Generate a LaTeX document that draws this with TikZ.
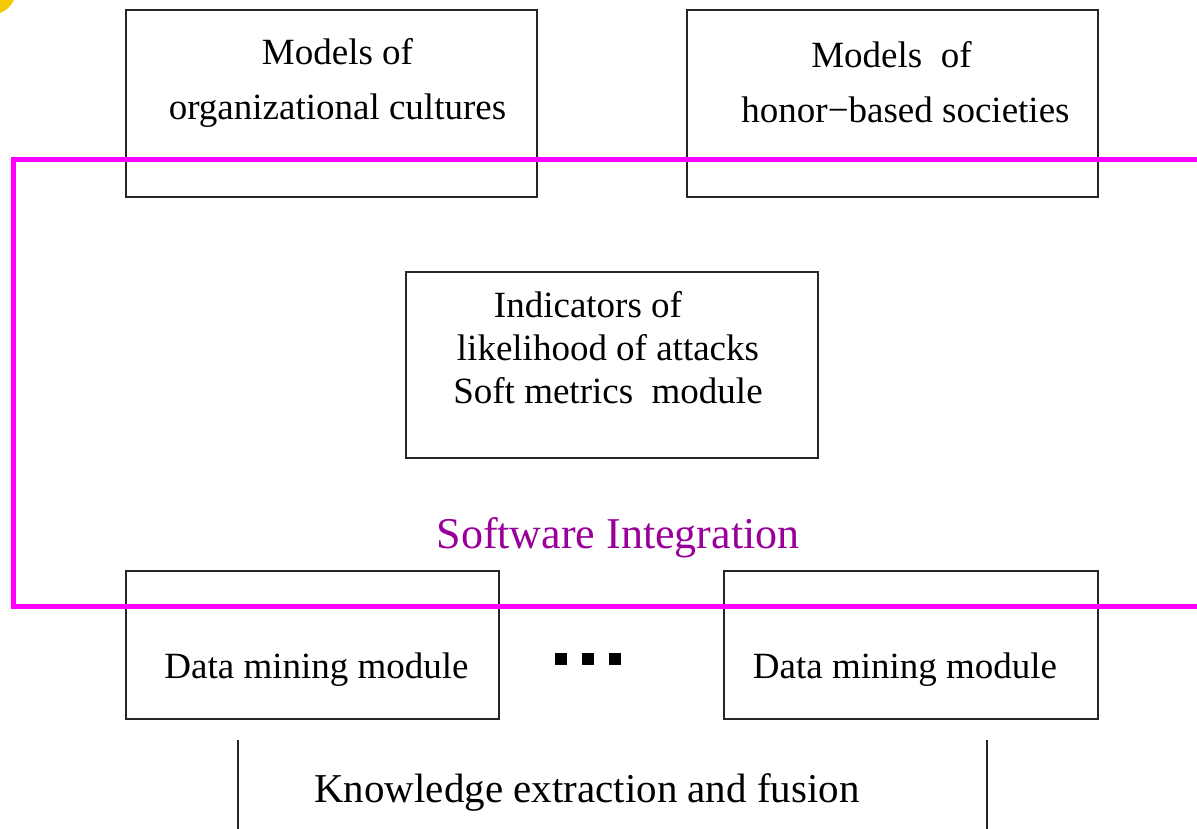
\documentclass[tikz,border=0pt]{standalone}
\usepackage{fontspec}
\setmainfont{Liberation Serif}
\usetikzlibrary{positioning}
\definecolor{integmagenta}{HTML}{FF00FF}
\definecolor{integlabel}{HTML}{990099}
\definecolor{cornergold}{HTML}{F5C800}

\tikzset{
  modbox/.style={draw=black!85, line width=2.2pt, inner sep=0pt},
  bodytext/.style={align=center, inner sep=0pt, font=\fontsize{37}{55}\selectfont},
  sqdot/.style={fill=black, minimum size=12pt, inner sep=0pt},
}

\begin{document}
\begin{tikzpicture}[x=1pt, y=-1pt]
      \useasboundingbox (0,0) rectangle (1197,829);

      % yellow sliver in the corner
      \fill[cornergold] (0,0) -- (14,0) to[bend left=20] (0,13) -- cycle;

      % upper models
      \node[modbox, minimum width=411pt, minimum height=187pt] (orgcult) at (331.5,103.5) {};
      \node[modbox, minimum width=411pt, minimum height=187pt] (honor) at (892.5,103.5) {};
      \node[bodytext] (orgtxt) at ([xshift=6pt, yshift=21pt]orgcult.center) {Models of\\organizational cultures};
      \node[bodytext] (hontxt) at ([xshift=13pt, yshift=21pt]honor.center) {Models\ \ of\hspace*{28pt}\\honor\textminus based societies};

      % soft metrics
      \node[modbox, minimum width=412pt, minimum height=186pt] (softmet) at (612,365) {};
      \node[bodytext, font=\fontsize{37}{43}\selectfont] (softtxt) at ([xshift=-4pt, yshift=17pt]softmet.center) {Indicators of\hspace*{40pt}\\likelihood of attacks\\Soft metrics\ \ module};

      % data mining modules
      \node[modbox, minimum width=373pt, minimum height=148pt] (dmleft) at (312.5,645) {};
      \node[modbox, minimum width=374pt, minimum height=148pt] (dmright) at (911,645) {};
      \node[bodytext] (dmltxt) at ([xshift=4pt, yshift=-25pt]dmleft.center) {Data mining module};
      \node[bodytext] (dmrtxt) at ([xshift=-6pt, yshift=-25pt]dmright.center) {Data mining module};
      \node[sqdot] (dotb) at (588,659) {};
      \node[sqdot, left=15pt of dotb] (dota) {};
      \node[sqdot, right=15pt of dotb] (dotc) {};

      % software integration frame
      \draw[integmagenta, line width=5pt] (1197,160) -- (13,160) -- (13,606) -- (1197,606);
      \node[font=\fontsize{44}{50}\selectfont, text=integlabel] (swint) at (618,538) {Software Integration};

      % fusion
      \coordinate (fusl) at (238,740);
      \coordinate (fusr) at (987,740);
      \draw[black!85, line width=1.6pt] (fusl) -- ++(0,89);
      \draw[black!85, line width=1.6pt] (fusr) -- ++(0,89);
      \node[bodytext, font=\fontsize{41}{48}\selectfont] (fusion) at (587,792) {Knowledge extraction and fusion};
\end{tikzpicture}
\end{document}
